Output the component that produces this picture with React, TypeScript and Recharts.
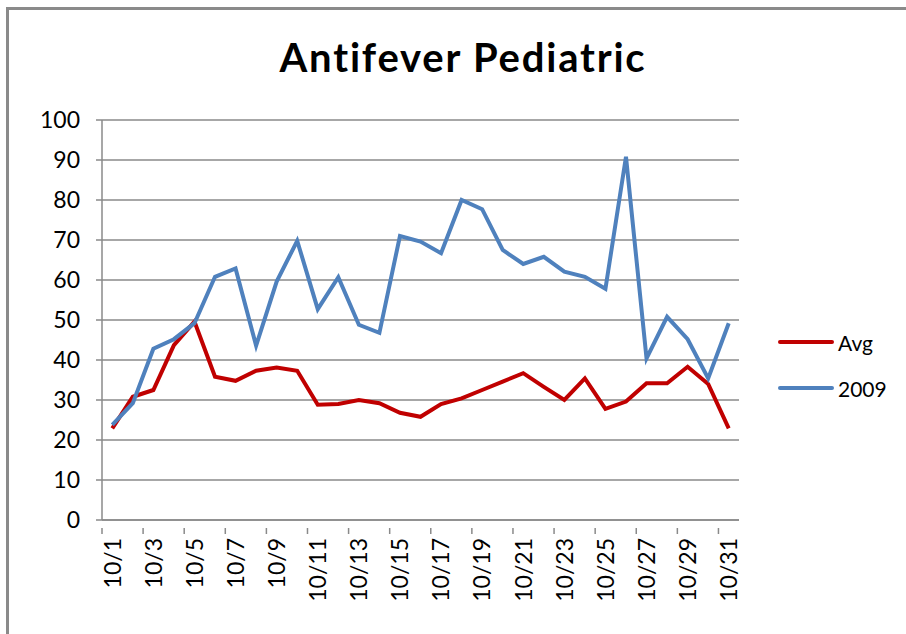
import React from "react";
import { LineChart, Line, XAxis, YAxis, CartesianGrid } from "recharts";

const categories = [
  "10/1", "10/2", "10/3", "10/4", "10/5", "10/6", "10/7", "10/8", "10/9", "10/10",
  "10/11", "10/12", "10/13", "10/14", "10/15", "10/16", "10/17", "10/18", "10/19", "10/20",
  "10/21", "10/22", "10/23", "10/24", "10/25", "10/26", "10/27", "10/28", "10/29", "10/30", "10/31",
];
const avgValues = [
  22.9, 30.8, 32.5, 43.7, 49.6, 35.8, 34.8, 37.3, 38.1, 37.3,
  28.8, 29.0, 30.0, 29.2, 26.8, 25.8, 29.0, 30.4, 32.5, 34.6,
  36.7, 33.3, 30.0, 35.4, 27.8, 29.6, 34.2, 34.2, 38.3, 34.0, 22.9,
];
const values2009 = [
  23.8, 29.2, 42.8, 45.2, 49.2, 60.8, 62.9, 43.6, 59.6, 69.8,
  52.7, 60.7, 48.8, 46.8, 71.0, 69.6, 66.7, 80.0, 77.7, 67.5,
  64.0, 65.8, 62.1, 60.8, 57.8, 90.8, 40.4, 50.8, 45.2, 35.4, 49.2,
];
const yTicks = [0, 10, 20, 30, 40, 50, 60, 70, 80, 90, 100];

const seriesNames = { avg: "Avg", y2009: "2009" };
const RED = "#C00000";
const BLUE = "#4F81BD";
const GRID = "#8a8a8a";
const FONT = "Lato, 'Open Sans', sans-serif";

const data = categories.map((c, i) => ({ date: c, avg: avgValues[i], y2009: values2009[i] }));

const CHART_W = 906;
const CHART_H = 634;
const MARGIN = { top: 120, right: 167, bottom: 34, left: 42 };
const Y_W = 60;
const PLOT_W = CHART_W - MARGIN.left - MARGIN.right - Y_W;
const HALF_BAND = PLOT_W / categories.length / 2;

const XTick = (props: any) => {
  const { x, y, payload } = props;
  return (
    <g transform={`translate(${x},${y})`}>
      <line x1={-HALF_BAND} x2={-HALF_BAND} y1={0} y2={6} stroke={GRID} strokeWidth={1.5} />
      <text
        transform="rotate(-90)"
        x={-10}
        y={0}
        dy="0.36em"
        textAnchor="end"
        fill="#000"
        fontSize={23}
        fontFamily={FONT}
      >
        {payload.value}
      </text>
    </g>
  );
};

const LegendBlock = () => (
  <div
    style={{
      position: "absolute",
      left: 778,
      top: 319,
      width: 120,
      fontFamily: FONT,
      fontSize: 21,
      color: "#000",
    }}
  >
    {[
      { name: seriesNames.avg, color: RED },
      { name: seriesNames.y2009, color: BLUE },
    ].map((it) => (
      <div key={it.name} style={{ display: "flex", alignItems: "center", height: 46 }}>
        <div style={{ width: 56, height: 4, background: it.color, marginRight: 4, borderRadius: 2 }} />
        <span>{it.name}</span>
      </div>
    ))}
  </div>
);

export default function App() {
  return (
    <div style={{ position: "fixed", left: 0, top: 0, width: CHART_W, height: CHART_H, background: "#fff" }}>
      <div
        style={{
          position: "absolute",
          left: 6,
          top: 7,
          width: CHART_W,
          height: CHART_H,
          borderLeft: "3px solid #8a8a8a",
          borderTop: "3px solid #8a8a8a",
        }}
      />
      <div
        style={{
          position: "absolute",
          left: 0,
          width: 926,
          top: 33,
          textAlign: "center",
          fontFamily: FONT,
          fontWeight: 700,
          fontSize: 40,
          letterSpacing: 1.8,
          color: "#000",
        }}
      >
        Antifever Pediatric
      </div>
      <div style={{ position: "absolute", left: 0, top: 0 }}>
        <LineChart width={CHART_W} height={CHART_H} data={data} margin={MARGIN}>
          <CartesianGrid vertical={false} stroke={GRID} strokeWidth={1.5} />
          <XAxis
            dataKey="date"
            scale="band"
            interval={1}
            height={80}
            tickLine={false}
            axisLine={{ stroke: GRID, strokeWidth: 1.5 }}
            tick={<XTick />}
          />
          <YAxis
            domain={[0, 100]}
            ticks={yTicks}
            width={Y_W}
            interval={0}
            tickSize={6}
            tickMargin={16}
            tickLine={{ stroke: GRID, strokeWidth: 1.5 }}
            axisLine={{ stroke: GRID, strokeWidth: 1.5 }}
            tick={{ fill: "#000", fontSize: 23, fontFamily: FONT }}
          />
          <Line
            type="linear"
            dataKey="avg"
            name={seriesNames.avg}
            stroke={RED}
            strokeWidth={4}
            dot={false}
            activeDot={false}
            isAnimationActive={false}
          />
          <Line
            type="linear"
            dataKey="y2009"
            name={seriesNames.y2009}
            stroke={BLUE}
            strokeWidth={4}
            dot={false}
            activeDot={false}
            isAnimationActive={false}
          />
        </LineChart>
      </div>
      <LegendBlock />
    </div>
  );
}
